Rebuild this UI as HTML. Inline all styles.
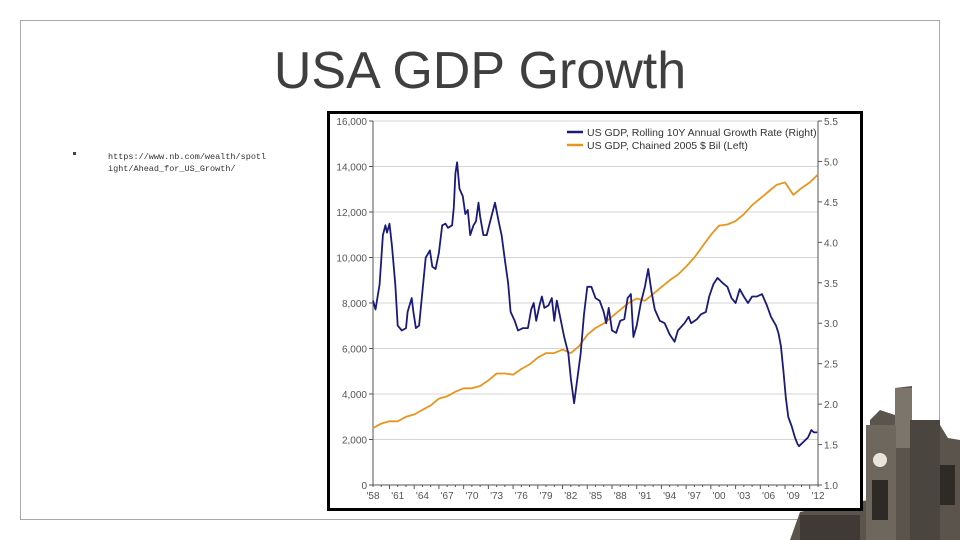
<!DOCTYPE html>
<html><head><meta charset="utf-8">
<style>
html,body{margin:0;padding:0;background:#fff;}
body{width:960px;height:540px;position:relative;overflow:hidden;font-family:"Liberation Sans",sans-serif;}
</style></head>
<body>
<svg width="960" height="540" viewBox="0 0 960 540" style="position:absolute;left:0;top:0">
  <rect x="20.5" y="20.5" width="919" height="499" fill="none" stroke="#a8a8a8" stroke-width="1"/>
  <text x="480" y="88" text-anchor="middle" font-family="'Liberation Sans Narrow','Liberation Sans',sans-serif" font-size="52" fill="#3f3f3f">USA GDP Growth</text>
  <rect x="73" y="152" width="3" height="3" fill="#444"/>
  <text font-family="'Liberation Mono',monospace" font-size="8.5" fill="#333">
    <tspan x="108" y="159">https://www.nb.com/wealth/spotl</tspan>
    <tspan x="108" y="171">ight/Ahead_for_US_Growth/</tspan>
  </text>
  <g>
    <polygon points="790,540 800,512 830,505 870,500 870,420 880,410 895,415 895,388 912,386 912,420 925,430 940,425 948,438 960,440 960,540" fill="#5a544d"/>
    <rect x="895" y="388" width="17" height="60" fill="#7c756c"/>
    <rect x="866" y="425" width="30" height="115" fill="#6e675e"/>
    <circle cx="880" cy="460" r="7" fill="#e8e4dc"/>
    <rect x="872" y="480" width="16" height="40" fill="#2e2a26"/>
    <rect x="930" y="465" width="25" height="40" fill="#2e2a26"/>
    <rect x="910" y="420" width="30" height="120" fill="#4a453f"/>
    <rect x="800" y="515" width="60" height="25" fill="#3f3a35"/>
  </g>
</svg>

<svg id="chart" width="536" height="400" viewBox="0 0 536 400" style="position:absolute;left:327px;top:111px">
  <rect x="1.5" y="1.5" width="533" height="397" fill="#fff" stroke="#000" stroke-width="3"/>
  <g id="grid"></g>
  <g id="axes"></g>
  <g id="series"></g>
  <g>
    <line x1="240" y1="21" x2="256" y2="21" stroke="#1a1a7a" stroke-width="2.5"/>
    <text x="260" y="25" font-size="10.5" fill="#333">US GDP, Rolling 10Y Annual Growth Rate (Right)</text>
    <line x1="240" y1="34" x2="256" y2="34" stroke="#e8951f" stroke-width="2.5"/>
    <text x="260" y="38" font-size="10.5" fill="#333">US GDP, Chained 2005 $ Bil (Left)</text>
  </g>
</svg>

<script>
const leftTicks=[0,2000,4000,6000,8000,10000,12000,14000,16000];
const leftTickLabels=["0","2,000","4,000","6,000","8,000","10,000","12,000","14,000","16,000"];
const rightTicks=[1.0,1.5,2.0,2.5,3.0,3.5,4.0,4.5,5.0,5.5];
const rightTickLabels=["1.0","1.5","2.0","2.5","3.0","3.5","4.0","4.5","5.0","5.5"];
const xTicks=[1958,1961,1964,1967,1970,1973,1976,1979,1982,1985,1988,1991,1994,1997,2000,2003,2006,2009,2012];
const xTickLabels=["'58","'61","'64","'67","'70","'73","'76","'79","'82","'85","'88","'91","'94","'97","'00","'03","'06","'09","'12"];

const growthYears=[1958.0,1958.3,1958.8,1959.2,1959.5,1959.7,1960.0,1960.3,1960.7,1961.0,1961.5,1962.0,1962.2,1962.7,1962.9,1963.2,1963.6,1964.0,1964.4,1964.9,1965.2,1965.6,1966.0,1966.4,1966.8,1967.1,1967.6,1967.8,1968.0,1968.2,1968.5,1968.9,1969.2,1969.5,1969.8,1970.2,1970.5,1970.8,1971.0,1971.4,1971.8,1972.3,1972.8,1973.3,1973.6,1974.0,1974.4,1974.7,1975.2,1975.6,1976.2,1976.8,1977.2,1977.5,1977.8,1978.2,1978.5,1978.8,1979.3,1979.7,1980.0,1980.3,1980.7,1981.2,1981.7,1982.0,1982.4,1982.8,1983.2,1983.6,1984.0,1984.5,1985.0,1985.5,1986.0,1986.3,1986.6,1987.0,1987.5,1988.0,1988.5,1988.9,1989.3,1989.6,1990.0,1990.5,1991.0,1991.4,1991.8,1992.2,1992.8,1993.4,1994.0,1994.6,1995.0,1995.8,1996.3,1996.6,1997.3,1997.8,1998.4,1998.8,1999.3,1999.8,2000.4,2001.0,2001.5,2002.0,2002.5,2003.0,2003.5,2004.0,2004.6,2005.2,2005.8,2006.3,2006.9,2007.2,2007.5,2007.8,2008.1,2008.4,2008.8,2009.2,2009.5,2009.7,2010.2,2010.8,2011.2,2011.5,2011.9];
const growthRate=[3.28,3.17,3.48,4.09,4.21,4.12,4.23,3.95,3.48,2.97,2.91,2.94,3.14,3.31,3.14,2.94,2.97,3.39,3.81,3.90,3.70,3.67,3.87,4.21,4.23,4.18,4.21,4.43,4.85,4.99,4.66,4.57,4.35,4.40,4.09,4.21,4.26,4.49,4.32,4.09,4.09,4.29,4.49,4.23,4.09,3.78,3.50,3.14,3.03,2.91,2.94,2.94,3.17,3.25,3.03,3.22,3.33,3.19,3.22,3.31,3.03,3.28,3.08,2.83,2.63,2.32,2.01,2.32,2.63,3.11,3.45,3.45,3.31,3.28,3.14,3.00,3.19,2.91,2.88,3.03,3.05,3.31,3.36,2.83,2.97,3.25,3.45,3.67,3.39,3.17,3.03,3.00,2.86,2.77,2.91,3.00,3.08,3.00,3.05,3.11,3.14,3.33,3.48,3.56,3.50,3.45,3.31,3.25,3.42,3.33,3.25,3.33,3.33,3.36,3.22,3.08,2.97,2.88,2.72,2.41,2.07,1.84,1.73,1.59,1.51,1.48,1.53,1.59,1.68,1.65,1.65];

const gdpYears=[1958,1959,1960,1961,1962,1963,1964,1965,1966,1967,1968,1969,1970,1971,1972,1973,1974,1975,1976,1977,1978,1979,1980,1981,1982,1983,1984,1985,1986,1987,1988,1989,1990,1991,1992,1993,1994,1995,1996,1997,1998,1999,2000,2001,2002,2003,2004,2005,2006,2007,2008,2009,2010,2011,2012];
const gdpValues=[2500,2700,2800,2800,3000,3100,3300,3500,3800,3900,4100,4250,4250,4350,4600,4900,4900,4850,5100,5300,5600,5800,5800,5950,5800,6100,6600,6900,7100,7400,7700,8000,8200,8100,8400,8700,9000,9250,9600,10000,10500,11000,11400,11450,11600,11900,12300,12600,12900,13200,13300,12750,13050,13300,13650];

const NS="http://www.w3.org/2000/svg";
const X0=46,X1=491,Y0=374,Y1=10;
const xs=y=>X0+(y-1958)/(2012-1958)*(X1-X0);
const yl=v=>Y0-v/16000*(Y0-Y1);
const yr=v=>Y0-(v-1)/4.5*(Y0-Y1);
function mk(tag,attrs,parent){const e=document.createElementNS(NS,tag);for(const k in attrs)e.setAttribute(k,attrs[k]);parent.appendChild(e);return e;}
const grid=document.getElementById('grid'),axes=document.getElementById('axes'),series=document.getElementById('series');

leftTicks.forEach((v,i)=>{
  if(v>0){const g=mk('line',{x1:X0,x2:X1,y1:yl(v),y2:yl(v),stroke:'#d4d4d4','stroke-width':1},grid);
  
  }
  mk('line',{x1:X0-4,x2:X0,y1:yl(v),y2:yl(v),stroke:'#555'},axes);
  const t=mk('text',{x:X0-6,y:yl(v)+4,'text-anchor':'end','font-size':10,fill:'#555'},axes);
  t.textContent=leftTickLabels[i];
  
  
});
rightTicks.forEach((v,i)=>{
  mk('line',{x1:X1,x2:X1+4,y1:yr(v),y2:yr(v),stroke:'#555'},axes);
  const t=mk('text',{x:X1+6,y:yr(v)+4,'font-size':10,fill:'#555'},axes);
  t.textContent=rightTickLabels[i];
  
  
});
for(let y=1958;y<=2012;y++){mk('line',{x1:xs(y),x2:xs(y),y1:Y0,y2:Y0+(y%3===1?4:2),stroke:'#555'},axes);}
xTicks.forEach((v,i)=>{
  const t=mk('text',{x:xs(v),y:Y0+14,'text-anchor':'middle','font-size':10,fill:'#555'},axes);
  t.textContent=xTickLabels[i];
  
  
});
const la=mk('line',{x1:X0,x2:X0,y1:Y1,y2:Y0,stroke:'#555'},axes);


const ra=mk('line',{x1:X1,x2:X1,y1:Y1,y2:Y0,stroke:'#555'},axes);


const ba=mk('line',{x1:X0,x2:X1,y1:Y0,y2:Y0,stroke:'#555'},axes);



const gp=mk('polyline',{points:gdpYears.map((y,i)=>xs(y).toFixed(1)+','+yl(gdpValues[i]).toFixed(1)).join(' '),fill:'none',stroke:'#e8951f','stroke-width':1.8,'stroke-linejoin':'round'},series);


const gr=mk('polyline',{points:growthYears.map((y,i)=>xs(y).toFixed(1)+','+yr(growthRate[i]).toFixed(1)).join(' '),fill:'none',stroke:'#1a1a7a','stroke-width':1.8,'stroke-linejoin':'round'},series);


</script>
</body></html>
